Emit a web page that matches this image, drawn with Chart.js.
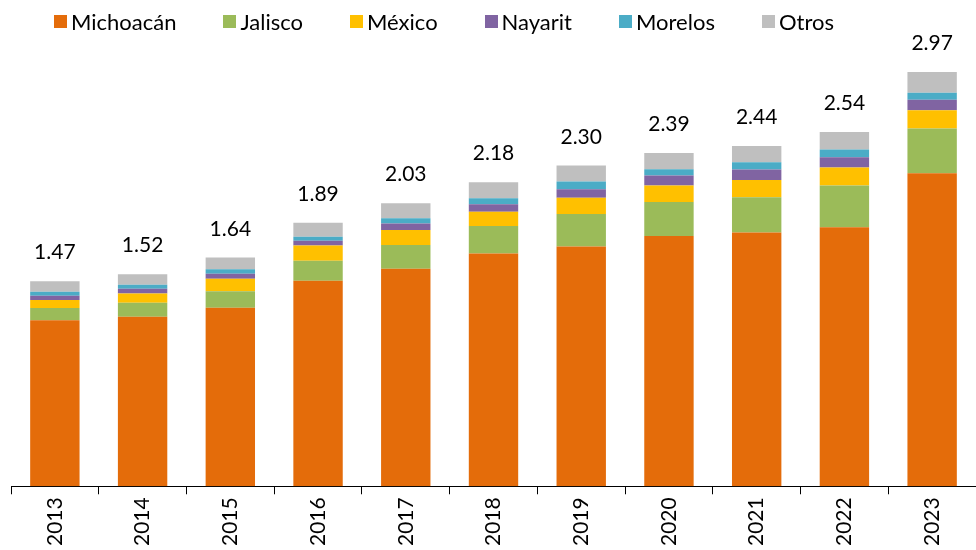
<!DOCTYPE html>
<html>
<head>
<meta charset="utf-8">
<script src="https://cdn.jsdelivr.net/npm/chart.js@4/dist/chart.umd.min.js"></script>
<style>
  body { margin: 0; background: #fff; }
  #wrap { position: relative; width: 976px; height: 550px; }
  #legend { position: absolute; top: 8px; left: 54px; display: flex; font-family: Lato, "Liberation Sans", sans-serif; font-size: 22px; color: #000; }
  #legend span.item { display: flex; align-items: center; margin-right: 47px; }
  #legend span.box { width: 13px; height: 13px; margin-right: 4px; display: inline-block; }
</style>
</head>
<body>
<div id="wrap">
  <canvas id="chart" width="976" height="550"></canvas>
  <div id="legend"></div>
</div>
<script>
const years = ['2013', '2014', '2015', '2016', '2017', '2018', '2019', '2020', '2021', '2022', '2023'];
const michoacan = [1.19, 1.216, 1.281, 1.474, 1.559, 1.669, 1.719, 1.795, 1.819, 1.857, 2.245];
const jalisco = [0.088, 0.10, 0.117, 0.143, 0.171, 0.197, 0.233, 0.243, 0.254, 0.30, 0.321];
const mexico = [0.057, 0.067, 0.09, 0.11, 0.107, 0.103, 0.117, 0.119, 0.124, 0.129, 0.131];
const nayarit = [0.031, 0.033, 0.036, 0.033, 0.048, 0.054, 0.061, 0.071, 0.074, 0.074, 0.074];
const morelos = [0.029, 0.029, 0.033, 0.029, 0.036, 0.043, 0.055, 0.045, 0.052, 0.055, 0.05];
const otros = [0.075, 0.075, 0.083, 0.10, 0.109, 0.114, 0.115, 0.117, 0.117, 0.125, 0.149];
const totals = [1.47, 1.52, 1.64, 1.89, 2.03, 2.18, 2.30, 2.39, 2.44, 2.54, 2.97];

const series = [
    { label: 'Michoacán', data: michoacan, color: '#E46C0A' },
    { label: 'Jalisco', data: jalisco, color: '#9BBB59' },
    { label: 'México', data: mexico, color: '#FFC000' },
    { label: 'Nayarit', data: nayarit, color: '#8064A2' },
    { label: 'Morelos', data: morelos, color: '#4BACC6' },
    { label: 'Otros', data: otros, color: '#BFBFBF' }
];

// legend as plain html
const legend = document.getElementById('legend');
series.forEach(function (s) {
    const item = document.createElement('span');
    item.className = 'item';
    const box = document.createElement('span');
    box.className = 'box';
    box.style.background = s.color;
    item.appendChild(box);
    item.appendChild(document.createTextNode(s.label));
    legend.appendChild(item);
});

// totals above each stack
const totalLabels = {
    id: 'totalLabels',
    afterDatasetsDraw(chart) {
        const ctx = chart.ctx;
        const x = chart.scales.x;
        const y = chart.scales.y;
        ctx.save();
        ctx.font = '21px Lato, "Liberation Sans", sans-serif';
        ctx.fillStyle = '#000';
        ctx.textAlign = 'center';
        ctx.textBaseline = 'alphabetic';
        totals.forEach(function (t, i) {
            ctx.fillText(t.toFixed(2), x.getPixelForValue(i), y.getPixelForValue(t) - 22);
        });
        ctx.restore();
    }
};

new Chart(document.getElementById('chart'), {
    type: 'bar',
    data: {
        labels: years,
        datasets: series.map(function (s) {
            return {
                label: s.label,
                data: s.data,
                backgroundColor: s.color,
                borderWidth: 0,
                barPercentage: 0.563,
                categoryPercentage: 1
            };
        })
    },
    options: {
        responsive: false,
        animation: false,
        layout: { padding: { left: 11, right: 0, top: 40, bottom: 1 } },
        plugins: {
            legend: { display: false },
            tooltip: { enabled: false }
        },
        scales: {
            x: {
                stacked: true,
                border: { display: true, color: '#000', width: 1 },
                grid: { display: true, drawOnChartArea: false, drawTicks: true, tickLength: 8, color: '#000', offset: true },
                ticks: {
                    color: '#000',
                    font: { family: 'Lato, "Liberation Sans", sans-serif', size: 21 },
                    minRotation: 90,
                    maxRotation: 90,
                    padding: 3
                }
            },
            y: {
                stacked: true,
                display: false,
                min: 0,
                max: 3.2
            }
        }
    },
    plugins: [totalLabels]
});
</script>
</body>
</html>
